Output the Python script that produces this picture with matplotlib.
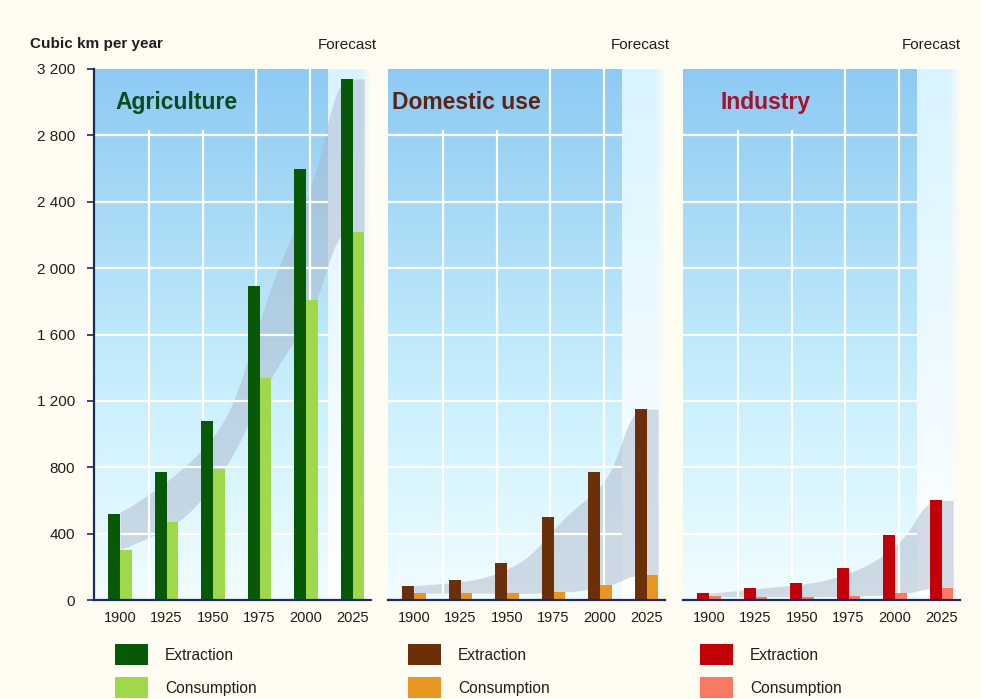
import numpy as np
import matplotlib
matplotlib.use("Agg")
import matplotlib.pyplot as plt
from matplotlib.colors import LinearSegmentedColormap, to_rgb
from matplotlib.patches import Rectangle

plt.rcParams["font.family"] = ["Liberation Sans", "DejaVu Sans"]

# ---- data -------------------------------------------------------------
years = ["1900", "1925", "1950", "1975", "2000", "2025"]

agri_extraction = [520, 770, 1080, 1890, 2600, 3140]
agri_consumption = [300, 470, 790, 1340, 1810, 2220]

dom_extraction = [85, 120, 220, 500, 770, 1150]
dom_consumption = [42, 42, 40, 48, 90, 150]

ind_extraction = [40, 75, 105, 190, 390, 600]
ind_consumption = [22, 20, 20, 25, 40, 70]

panel_titles = ["Agriculture", "Domestic use", "Industry"]
y_ticks = [0, 400, 800, 1200, 1600, 2000, 2400, 2800, 3200]

# ---- styling ----------------------------------------------------------
W, H = 981, 699
BG = "#fffdf1"
NAVY = "#1c2a5c"
TEXT = "#1e1e1e"
panels = [
    dict(title=panel_titles[0], ext=agri_extraction, con=agri_consumption,
         c_ext="#075807", c_con="#9fd84a", c_title="#0d4a1e",
         x0=120, title_x=-0.09, fc_x=377, leg_x=115),
    dict(title=panel_titles[1], ext=dom_extraction, con=dom_consumption,
         c_ext="#6b2f0a", c_con="#e99522", c_title="#5a2418",
         x0=414, title_x=-0.47, fc_x=670, leg_x=408),
    dict(title=panel_titles[2], ext=ind_extraction, con=ind_consumption,
         c_ext="#c20008", c_con="#f87a62", c_title="#a5122b",
         x0=709, title_x=0.24, fc_x=961, leg_x=700),
]

GROUP = 46.5            # pixels per year group
XMIN, XMAX = -0.55, 5.4
Y0_PX, Y1_PX = 600, 69  # pixel rows of 0 and 3200
FORECAST_X = 4.47
BAR_W = 0.25


def monotone_cubic(xk, yk, xs):
    """Fritsch-Carlson monotone cubic interpolation."""
    xk = np.asarray(xk, float)
    yk = np.asarray(yk, float)
    h = np.diff(xk)
    d = np.diff(yk) / h
    m = np.zeros_like(yk)
    m[0], m[-1] = d[0], d[-1]
    for k in range(1, len(yk) - 1):
        if d[k - 1] * d[k] <= 0:
            m[k] = 0.0
        else:
            w1 = 2 * h[k] + h[k - 1]
            w2 = h[k] + 2 * h[k - 1]
            m[k] = (w1 + w2) / (w1 / d[k - 1] + w2 / d[k])
    out = np.empty_like(xs)
    for j, x in enumerate(xs):
        k = np.clip(np.searchsorted(xk, x) - 1, 0, len(xk) - 2)
        t = (x - xk[k]) / h[k]
        h00 = 2 * t**3 - 3 * t**2 + 1
        h10 = t**3 - 2 * t**2 + t
        h01 = -2 * t**3 + 3 * t**2
        h11 = t**3 - t**2
        out[j] = (h00 * yk[k] + h10 * h[k] * m[k] + h01 * yk[k + 1]
                  + h11 * h[k] * m[k + 1])
    return out


def smooth(y, xs, sigma=0.15):
    step = xs[1] - xs[0]
    half = int(3 * sigma / step)
    k = np.exp(-0.5 * (np.arange(-half, half + 1) * step / sigma) ** 2)
    k /= k.sum()
    padded = np.concatenate([np.full(half, y[0]), y, np.full(half, y[-1])])
    return np.convolve(padded, k, mode="valid")


def band_curve(vals, xs):
    n = len(vals)
    xk = [0.0] + [i + 0.25 for i in range(1, n - 1)] + [n - 1.25, n - 0.75]
    yk = list(vals[:-1]) + [vals[-1], vals[-1]]
    curve = smooth(monotone_cubic(xk, yk, xs), xs)
    # the forecast column is held at the 2025 value
    curve[xs >= n - 1.25] = vals[-1]
    return curve


fig = plt.figure(figsize=(W / 100, H / 100), dpi=100)
fig.patch.set_facecolor(BG)

blue_cmap = LinearSegmentedColormap.from_list(
    "panel", [(0.0, "#f1fdff"), (0.35, "#cdf1fd"), (0.7, "#abdcf7"), (1.0, "#8ecaf3")])

xpos = np.arange(len(years))

for idx, p in enumerate(panels):
    left_px = p["x0"] + XMIN * GROUP
    ax = fig.add_axes([left_px / W, (H - Y0_PX) / H,
                       (XMAX - XMIN) * GROUP / W, (Y0_PX - Y1_PX) / H])
    ax.set_xlim(XMIN, XMAX)
    ax.set_ylim(0, 3200)
    ax.patch.set_alpha(0)

    # sky gradient of the historical period
    grad = np.linspace(0, 1, 256)[:, None]
    ax.imshow(grad, extent=(XMIN, FORECAST_X, 0, 3200), origin="lower",
              cmap=blue_cmap, aspect="auto", zorder=0, interpolation="bicubic")

    # pale forecast strip, fading into the page on its right edge
    ny, nx = 128, 64
    top = np.array(to_rgb("#d9f4ff"))
    bot = np.array(to_rgb("#ffffff"))
    t = np.linspace(0, 1, ny)[:, None, None]
    rgb = bot * (1 - t) + top * t
    rgb = np.broadcast_to(rgb, (ny, nx, 3))
    xa = np.linspace(0, 1, nx)
    alpha = np.clip((1 - xa) / 0.25, 0, 1)
    rgba = np.concatenate([rgb, np.broadcast_to(alpha[None, :, None], (ny, nx, 1))], axis=2)
    ax.imshow(rgba, extent=(FORECAST_X, XMAX, 0, 3200), origin="lower",
              aspect="auto", zorder=0, interpolation="bicubic")

    # grid
    for yv in y_ticks[1:-1]:
        ax.plot([XMIN, FORECAST_X], [yv, yv], color="white", lw=1.6, zorder=2,
                solid_capstyle="butt")
    for k, vx in enumerate([0.63, 1.78, 2.93, 4.09]):
        ytop = 2830 if k < 2 else 3200
        ax.plot([vx, vx], [0, ytop], color="white", lw=1.6, zorder=2,
                solid_capstyle="butt")

    # trend band between extraction and consumption
    xs = np.linspace(0, len(years) - 0.75, 400)
    upper = band_curve(p["ext"], xs)
    lower = band_curve(p["con"], xs)
    ax.fill_between(xs, lower, upper, color="#a9b5c9", alpha=0.48, lw=0, zorder=1)

    # bars
    ax.bar(xpos - BAR_W / 2, p["ext"], width=BAR_W, color=p["c_ext"], zorder=3, lw=0)
    ax.bar(xpos + BAR_W / 2, p["con"], width=BAR_W, color=p["c_con"], zorder=3, lw=0)

    # title
    ax.text(p["title_x"], 3000, p["title"], fontsize=16.5, fontweight="bold",
            color=p["c_title"], ha="left", va="center", zorder=4)

    # axes cosmetics
    for s in ["top", "right"]:
        ax.spines[s].set_visible(False)
    ax.spines["bottom"].set_color(NAVY)
    ax.spines["bottom"].set_linewidth(1.6)
    ax.spines["bottom"].set_zorder(5)
    ax.set_xticks(xpos)
    ax.set_xticklabels(years, fontsize=10.5, color=TEXT)
    ax.tick_params(axis="x", length=0, pad=8)
    if idx == 0:
        ax.spines["left"].set_color(NAVY)
        ax.spines["left"].set_linewidth(1.6)
        ax.set_yticks(y_ticks)
        ax.set_yticklabels([f"{v:,}".replace(",", " ") for v in y_ticks],
                           fontsize=11, color=TEXT)
        ax.tick_params(axis="y", length=5, width=1.2, color=NAVY, pad=9)
    else:
        ax.spines["left"].set_visible(False)
        ax.set_yticks([])

    # forecast caption
    fig.text(p["fc_x"] / W, 1 - 45 / H, "Forecast", fontsize=11, color=TEXT,
             ha="right", va="center")

    # legend
    lx = p["leg_x"]
    for row, (col, lab) in enumerate([(p["c_ext"], "Extraction"),
                                      (p["c_con"], "Consumption")]):
        ytop = 644 + row * 33
        fig.patches.append(Rectangle((lx / W, (H - ytop - 21) / H), 33 / W, 21 / H,
                                     transform=fig.transFigure, color=col, lw=0))
        fig.text((lx + 50) / W, 1 - (ytop + 11) / H, lab, fontsize=11.2,
                 color=TEXT, ha="left", va="center")

fig.text(30 / W, 1 - 44 / H, "Cubic km per year", fontsize=11,
         fontweight="bold", color=TEXT, ha="left", va="center")

fig.savefig("out.png", dpi=100, facecolor=BG)
